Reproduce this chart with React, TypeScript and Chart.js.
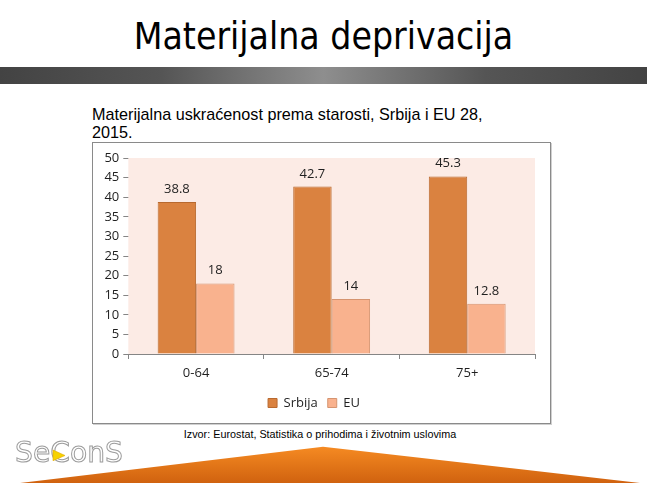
import React, { useEffect, useRef } from "react";
import { Chart, registerables } from "chart.js";

Chart.register(...registerables);

// ---- data ----
const categories: string[] = ["0-64", "65-74", "75+"];
const srbijaValues: number[] = [38.8, 42.7, 45.3];
const euValues: number[] = [18, 14, 12.8];
const seriesNames: string[] = ["Srbija", "EU"];
const yMin = 0;
const yMax = 50;
const yStep = 5;

const titleText = "Materijalna deprivacija";
const subtitleLines: string[] = [
  "Materijalna uskraćenost prema starosti, Srbija i EU 28,",
  "2015.",
];
const sourceText = "Izvor: Eurostat, Statistika o prihodima i životnim uslovima";
const logoText = "SeConS";

const CHART_FONT = "'Open Sans', 'Noto Sans', sans-serif";

const plotBackground = {
  id: "plotBackground",
  beforeDatasetsDraw(chart: any) {
    const { ctx, chartArea: a } = chart;
    ctx.save();
    ctx.fillStyle = "#FCEBE5";
    ctx.fillRect(a.left, a.top, a.right - a.left, a.bottom - a.top);
    ctx.restore();
  },
};

const barValueLabels = {
  id: "barValueLabels",
  afterDatasetsDraw(chart: any) {
    const ctx = chart.ctx;
    ctx.save();
    ctx.font = `13px ${CHART_FONT}`;
    ctx.fillStyle = "#1f1f1f";
    ctx.textAlign = "center";
    ctx.textBaseline = "alphabetic";
    chart.data.datasets.forEach((ds: any, i: number) => {
      const meta = chart.getDatasetMeta(i);
      meta.data.forEach((bar: any, j: number) => {
        ctx.fillText(String(ds.data[j]), bar.x, bar.y - 9);
      });
    });
    ctx.restore();
  },
};

function BarChart() {
  const ref = useRef<HTMLCanvasElement | null>(null);
  useEffect(() => {
    if (!ref.current) return;
    const chart = new Chart(ref.current, {
      type: "bar",
      data: {
        labels: categories,
        datasets: [
          {
            label: seriesNames[0],
            data: srbijaValues,
            backgroundColor: "#DA8240",
            borderColor: "#B8692F",
            borderWidth: 1,
            barPercentage: 1,
            categoryPercentage: 0.567,
          },
          {
            label: seriesNames[1],
            data: euValues,
            backgroundColor: "#F9B28E",
            borderColor: "#D59470",
            borderWidth: 1,
            barPercentage: 1,
            categoryPercentage: 0.567,
          },
        ],
      },
      options: {
        animation: false,
        responsive: true,
        maintainAspectRatio: false,
        layout: { padding: { left: 0, top: 15, right: 15, bottom: 3.5 } },
        plugins: {
          tooltip: { enabled: false },
          legend: {
            position: "bottom",
            labels: {
              boxWidth: 9,
              boxHeight: 9,
              padding: 10,
              color: "#1f1f1f",
              font: { size: 13, family: CHART_FONT },
            },
          },
        },
        scales: {
          x: {
            grid: {
              offset: true,
              drawOnChartArea: false,
              drawTicks: true,
              tickLength: 5,
              color: "#858585",
            },
            border: { display: true, color: "#858585" },
            ticks: {
              color: "#1f1f1f",
              padding: 6,
              font: { size: 13, family: CHART_FONT },
            },
            afterFit(scale: any) {
              scale.height = 32.5;
            },
          },
          y: {
            min: yMin,
            max: yMax,
            ticks: {
              stepSize: yStep,
              color: "#1f1f1f",
              padding: 4,
              font: { size: 13, family: CHART_FONT },
            },
            grid: { color: "#858585", tickLength: 5, drawTicks: true },
            border: { display: false },
            afterFit(scale: any) {
              scale.width = 35.3;
            },
          },
        },
      },
      plugins: [plotBackground, barValueLabels],
    });
    return () => chart.destroy();
  }, []);
  return <canvas ref={ref} />;
}

export default function App() {
  return (
    <div
      style={{
        position: "fixed",
        left: 0,
        top: 0,
        width: 647,
        height: 483,
        background: "#ffffff",
        overflow: "hidden",
      }}
    >
      {/* title */}
      <div
        style={{
          position: "absolute",
          left: 0,
          top: 17.5,
          width: 647,
          textAlign: "center",
          fontFamily: "'DejaVu Sans Condensed', 'DejaVu Sans', sans-serif",
          fontStretch: "condensed",
          fontSize: 37,
          lineHeight: "37px",
          color: "#000",
          whiteSpace: "nowrap",
        }}
      >
        {titleText}
      </div>
      {/* gray band */}
      <div
        style={{
          position: "absolute",
          left: 0,
          top: 67,
          width: 647,
          height: 16.5,
          background:
            "linear-gradient(to right, #434343 0%, #555555 25%, #8E8E8E 50%, #555555 75%, #434343 100%)",
        }}
      />
      {/* subtitle */}
      <div
        style={{
          position: "absolute",
          left: 92,
          top: 105,
          fontFamily: "'Liberation Sans', Arial, sans-serif",
          fontSize: 16.2,
          lineHeight: "18px",
          color: "#000",
          whiteSpace: "nowrap",
        }}
      >
        {subtitleLines[0]}
        <br />
        {subtitleLines[1]}
      </div>
      {/* chart box */}
      <div
        style={{
          position: "absolute",
          left: 92,
          top: 142,
          width: 457,
          height: 280,
          border: "1px solid #8A8A8A",
          boxShadow: "1px 1px 0 #d0d0d0",
          background: "#fff",
        }}
      >
        <div style={{ position: "relative", width: 457, height: 280 }}>
          <BarChart />
        </div>
      </div>
      {/* source */}
      <div
        style={{
          position: "absolute",
          left: 0,
          top: 428,
          width: 640,
          textAlign: "center",
          fontFamily: "'Liberation Sans', Arial, sans-serif",
          fontSize: 10.8,
          lineHeight: "12px",
          color: "#000",
          whiteSpace: "nowrap",
        }}
      >
        {sourceText}
      </div>
      {/* bottom orange shape */}
      <svg
        style={{ position: "absolute", left: 0, top: 0 }}
        width={647}
        height={483}
      >
        <defs>
          <linearGradient id="orgV" x1="0" y1="447" x2="0" y2="483" gradientUnits="userSpaceOnUse">
            <stop offset="0" stopColor="#F58A22" />
            <stop offset="1" stopColor="#D0620F" />
          </linearGradient>
        </defs>
        <polygon points="20,483 323,446.7 640,483" fill="url(#orgV)" />
      </svg>
      {/* logo */}
      <svg
        style={{ position: "absolute", left: 0, top: 425 }}
        width={160}
        height={58}
      >
        <text
          x={15}
          y={37}
          fontFamily="'DejaVu Sans', sans-serif"
          fontSize={28.5}
          fill="#ffffff"
          stroke="#9C9C9C"
          strokeWidth={1}
          textLength={108}
          lengthAdjust="spacingAndGlyphs"
        >
          {logoText}
        </text>
        <polygon
          points="53,25 53,35.7 65,30.5"
          fill="#F6D200"
          stroke="#E3A800"
          strokeWidth={0.6}
        />
      </svg>
    </div>
  );
}
